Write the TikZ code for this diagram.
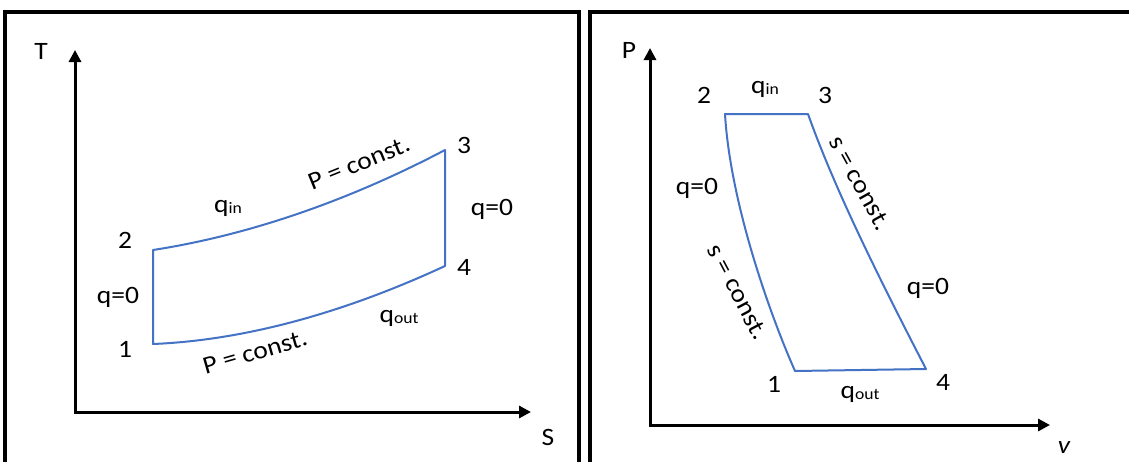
\documentclass[tikz,border=0pt]{standalone}
\usepackage{fontspec}
\setmainfont{Carlito}
\usetikzlibrary{arrows.meta}
\definecolor{cycblue}{RGB}{68,114,196}
\newcommand{\sub}[1]{\raisebox{-1.5pt}{\fontsize{16}{16}\selectfont #1}}
\newcommand{\wide}[1]{\scalebox{1.1}[1]{#1}}
\begin{document}
\begin{tikzpicture}[x=1pt,y=-1pt,
  frame/.style={line width=4pt},
  axis/.style={line width=3pt,line join=miter,{Triangle[length=12pt,width=12pt]}-{Triangle[length=12pt,width=12pt]}},
  cyc/.style={draw=cycblue,line width=2pt,line join=round},
  lab/.style={font=\fontsize{25}{28}\selectfont,inner sep=0pt}]
\useasboundingbox (0,0) rectangle (1129,461);
\clip (0,0) rectangle (1129,461);
\fill[white] (0,0) rectangle (1129,461);
% frames
\draw[frame] (5,480) -- (5,12) -- (579,12) -- (579,480);
\draw[frame] (590,480) -- (590,12) -- (1140,12);
% ---------- left: T-s diagram ----------
\coordinate (LO) at (75,412);
\coordinate (LY) at (75,50);
\coordinate (LX) at (531,412);
\draw[axis] (LY) -- (LO) -- (LX);
\node[lab] (T) at (41,51) {\wide{T}};
\node[lab] (S) at (548,437) {\wide{S}};
\coordinate (L1) at (153,344);
\coordinate (L2) at (153,250);
\coordinate (L3) at (445,150);
\coordinate (L4) at (445,266);
\draw[cyc] (L1) -- (L2) .. controls (250,235) and (350,200) .. (L3) -- (L4) .. controls (350,310) and (250,340) .. (L1) -- cycle;
\node[lab] (n2L) at (125,240) {\wide{2}};
\node[lab] (n1L) at (125,349) {\wide{1}};
\node[lab] (q0L) at (118,297) {\wide{q=0}};
\node[lab] (n3L) at (464,145) {\wide{3}};
\node[lab] (n4L) at (464,267) {\wide{4}};
\node[lab] (q0R) at (492,209) {\wide{q=0}};
\node[lab] (qinL) at (228,208) {\wide{q\sub{in}}};
\node[lab,rotate=22] (PcT) at (359,163) {\wide{P = const.}};
\node[lab,rotate=16] (PcB) at (255,352) {\wide{P = const.}};
\node[lab] (qoutL) at (399,318) {\wide{q\sub{out}}};
% ---------- right: P-v diagram ----------
\coordinate (RO) at (650,425);
\coordinate (RY) at (650,48);
\coordinate (RX) at (1050,425);
\draw[axis] (RY) -- (RO) -- (RX);
\node[lab] (P) at (629,50) {\wide{P}};
\node[lab] (v) at (1064,448) {\wide{\itshape v}};
\coordinate (R1) at (795,371);
\coordinate (R2) at (725,114);
\coordinate (R3) at (808,114);
\coordinate (R4) at (926,369);
\draw[cyc] (R1) .. controls (768,310) and (730,200) .. (R2) -- (R3) .. controls (835,190) and (880,280) .. (R4) -- (R1) -- cycle;
\node[lab] (n2R) at (704,95) {\wide{2}};
\node[lab] (qinR) at (765,89) {\wide{q\sub{in}}};
\node[lab] (n3R) at (825,95) {\wide{3}};
\node[lab] (q0RL) at (697,188) {\wide{q=0}};
\node[lab,rotate=-62] (scL) at (738,292) {\wide{s = const.}};
\node[lab,rotate=-61] (scR) at (860,183) {\wide{s = const.}};
\node[lab] (q0RR) at (928,288) {\wide{q=0}};
\node[lab] (n1R) at (774,384) {\wide{1}};
\node[lab] (qoutR) at (860,394) {\wide{q\sub{out}}};
\node[lab] (n4R) at (943,382) {\wide{4}};
\end{tikzpicture}
\end{document}
